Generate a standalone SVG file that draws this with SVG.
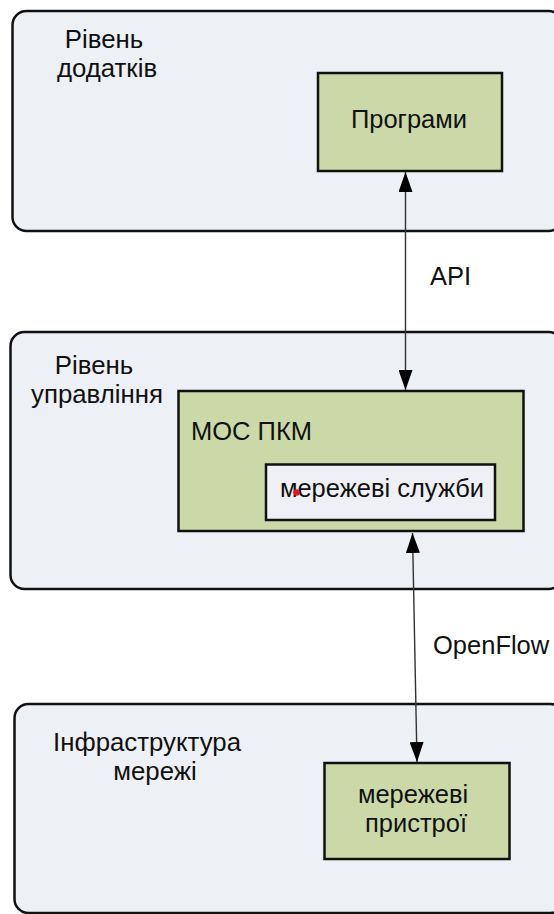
<svg xmlns="http://www.w3.org/2000/svg" width="554" height="914" viewBox="0 0 554 914">
  <style>
    .layer { fill: #edf0f5; stroke: #111; stroke-width: 2.5; }
    .green { fill: #cbd9a8; stroke: #111; stroke-width: 2.5; }
    .white { fill: #eef0f5; stroke: #111; stroke-width: 2.5; }
    text { font-family: "Liberation Sans", Arial, sans-serif; fill: #111; }
    .lbl { font-size: 25.8px; text-anchor: middle; }
    .in { font-size: 25.5px; }
    .mid { text-anchor: middle; }
    .conn { stroke: #333; stroke-width: 1.4; fill: none; marker-start: url(#ah); marker-end: url(#ah); }
  </style>
  <defs>
    <marker id="ah" viewBox="0 0 20 14" refX="20" refY="7" markerWidth="20" markerHeight="14" markerUnits="userSpaceOnUse" orient="auto-start-reverse">
      <path d="M0,0 L20,7 L0,14 z" fill="#000"/>
    </marker>
  </defs>

  <g id="layer-apps">
    <rect class="layer" x="12.5" y="11" width="550" height="220" rx="14"/>
    <text class="lbl" x="104" y="48">Рівень</text>
    <text class="lbl" x="107" y="77">додатків</text>
  </g>
  <g id="programs">
    <rect class="green" x="318" y="73" width="184" height="98"/>
    <text class="in mid" x="409" y="128">Програми</text>
  </g>

  <g id="layer-control">
    <rect class="layer" x="10.5" y="332" width="552" height="257" rx="14"/>
    <text class="lbl" x="94" y="374">Рівень</text>
    <text class="lbl" x="97" y="403">управління</text>
  </g>
  <g id="sdn-os">
    <rect class="green" x="178.5" y="391" width="345" height="140"/>
    <text class="in" x="191" y="440">МОС ПКМ</text>
  </g>
  <g id="net-services">
    <rect class="white" x="266" y="464.5" width="229" height="55.5"/>
    <text class="in mid" x="382" y="497">мережеві служби</text>
    <circle cx="296.5" cy="492.5" r="3.2" fill="#e8141e"/>
  </g>

  <g id="layer-infra">
    <rect class="layer" x="14.5" y="704" width="550" height="209" rx="14"/>
    <text class="lbl" x="147" y="751">Інфраструктура</text>
    <text class="lbl" x="155" y="780">мережі</text>
  </g>
  <g id="devices">
    <rect class="green" x="324.5" y="763" width="185" height="96"/>
    <text class="in mid" x="413" y="803">мережеві</text>
    <text class="in mid" x="416" y="832">пристрої</text>
  </g>

  <g id="connectors">
    <line class="conn" x1="405.5" y1="172" x2="405.5" y2="390"/>
    <text class="in" x="430" y="285">API</text>
    <line class="conn" x1="412.5" y1="533" x2="417" y2="762"/>
    <text class="in" x="433" y="654">OpenFlow</text>
  </g>
</svg>
